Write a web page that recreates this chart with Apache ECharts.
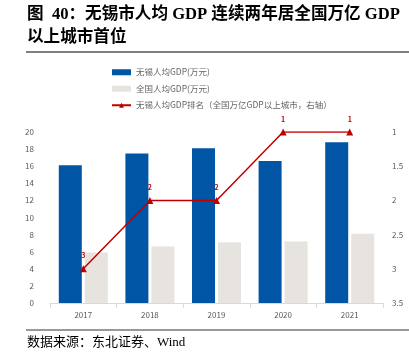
<!DOCTYPE html>
<html><head><meta charset="utf-8">
<script src="https://cdn.jsdelivr.net/npm/echarts@6/dist/echarts.min.js"></script>
<style>html,body{margin:0;padding:0;background:#fff}#c{width:409px;height:354px}</style>
</head><body><div id="c"></div>
<script>
const categories = ['2017','2018','2019','2020','2021'];
const wuxiGdp = [16.1, 17.5, 18.1, 16.6, 18.8];
const nationalGdp = [5.9, 6.6, 7.1, 7.2, 8.1];
const wuxiRank = [3, 2, 2, 1, 1];
const leftTicks = [0, 20, 2];
const rightTicks = [1, 3.5, 0.5];
const names = ['无锡人均GDP(万元)', '全国人均GDP(万元)', '无锡人均GDP排名（全国万亿GDP以上城市，右轴）'];

const chart = echarts.init(document.getElementById('c'));
const titleFont = '"Liberation Serif","Noto Sans CJK SC",serif';
chart.setOption({
  animation: false,
  textStyle: {fontFamily: '"Noto Sans CJK SC","Noto Sans",sans-serif'},
  graphic: [
    {type:'text', left:27, top:6, style:{text:'图  40：无锡市人均 GDP 连续两年居全国万亿 GDP', font:'bold 16.6px '+titleFont, fill:'#000'}},
    {type:'text', left:27, top:29, style:{text:'以上城市首位', font:'bold 16.6px '+titleFont, fill:'#000'}},
    {type:'line', shape:{x1:26,y1:52,x2:409,y2:52}, style:{stroke:'#000', lineWidth:1}},
    {type:'line', shape:{x1:26,y1:330,x2:409,y2:330}, style:{stroke:'#777', lineWidth:1.5}},
    {type:'text', left:27, top:336, style:{text:'数据来源：东北证券、Wind', font:'13px '+titleFont, fill:'#000'}}
  ],
  legend: {
    orient:'vertical', left:106, top:63, itemGap:8, itemWidth:19, itemHeight:6,
    textStyle:{fontSize:8.5, color:'#666'},
    data:[
      {name:names[0], icon:'rect'},
      {name:names[1], icon:'rect'},
      {name:names[2]}
    ]
  },
  grid: {left:50, right:26, top:132, bottom:51},
  xAxis: {
    type:'category', data:categories,
    axisLine:{lineStyle:{color:'#d9d9d9'}},
    axisTick:{show:true, lineStyle:{color:'#d9d9d9'}},
    axisLabel:{color:'#595959', fontSize:8, margin:8}
  },
  yAxis: [
    {type:'value', min:leftTicks[0], max:leftTicks[1], interval:leftTicks[2],
     splitLine:{show:false}, axisLine:{show:false}, axisTick:{show:false},
     axisLabel:{color:'#595959', fontSize:8, margin:16}},
    {type:'value', inverse:true, min:rightTicks[0], max:rightTicks[1], interval:rightTicks[2],
     splitLine:{show:false}, axisLine:{show:false}, axisTick:{show:false},
     axisLabel:{color:'#595959', fontSize:8, margin:9}}
  ],
  series: [
    {name:names[0], type:'bar', data:wuxiGdp, barWidth:23, barGap:'13%',
     itemStyle:{color:'#0055A5'}},
    {name:names[1], type:'bar', data:nationalGdp, barWidth:23,
     itemStyle:{color:'#E7E4DF'}},
    {name:names[2], type:'line', yAxisIndex:1, data:wuxiRank,
     symbol:'triangle', symbolSize:7,
     lineStyle:{color:'#C00000', width:1.5},
     itemStyle:{color:'#C00000'},
     label:{show:true, position:'top', distance:6, color:'#C00000', fontSize:7, fontWeight:'bold'}}
  ]
});
</script></body></html>
